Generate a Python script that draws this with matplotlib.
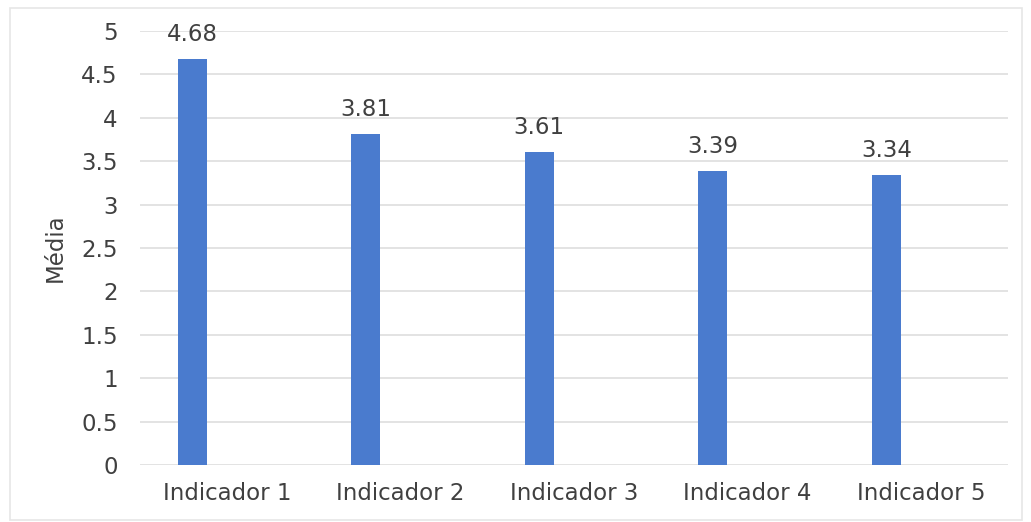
import matplotlib
matplotlib.use("Agg")
import matplotlib.pyplot as plt
from matplotlib.patches import Rectangle
import numpy as np

categories = ["Indicador 1", "Indicador 2", "Indicador 3", "Indicador 4", "Indicador 5"]
values = [4.68, 3.81, 3.61, 3.39, 3.34]
yticks = [0, 0.5, 1, 1.5, 2, 2.5, 3, 3.5, 4, 4.5, 5]
ytick_labels = ["0", "0.5", "1", "1.5", "2", "2.5", "3", "3.5", "4", "4.5", "5"]
ylabel = "Média"

W, H = 1031, 522
fig = plt.figure(figsize=(W / 100, H / 100), dpi=100)
plt.rcParams['font.family'] = ['DejaVu Sans']
txt_color = "#404040"
fs = 16.5

# outer frame
fig.patches.append(Rectangle((10 / W, 1 - 520 / H), (1022 - 10) / W, (520 - 8) / H,
                             transform=fig.transFigure, fill=False,
                             edgecolor="#E6E6E6", linewidth=1.2))

ax = fig.add_axes([140 / W, 1 - 465 / H, (1008 - 140) / W, (465 - 31) / H])
x = np.arange(len(categories))
bars = ax.bar(x - 0.2, values, width=0.167, color="#4A7BCE", zorder=3)

for xi, v in zip(x, values):
    ax.annotate(f"{v:.2f}", (xi - 0.2, v), xytext=(0, 13), textcoords="offset points",
                ha="center", va="baseline", fontsize=fs, color=txt_color)

ax.set_xlim(-0.5, len(categories) - 0.5)
ax.set_ylim(0, 5)
ax.set_yticks(yticks)
ax.set_yticklabels(ytick_labels)
ax.set_xticks(x)
ax.set_xticklabels(categories)
ax.tick_params(axis="both", length=0, labelsize=fs, labelcolor=txt_color)
ax.tick_params(axis="y", pad=16)
ax.tick_params(axis="x", pad=12)
ax.grid(axis="y", color="#E3E3E3", linewidth=1.4, zorder=0)
for s in ax.spines.values():
    s.set_visible(False)
ax.set_ylabel(ylabel, fontsize=fs, color=txt_color)
ax.yaxis.set_label_coords((67 - 140) / (1008 - 140), 0.5)

fig.savefig("out.png", dpi=100)
